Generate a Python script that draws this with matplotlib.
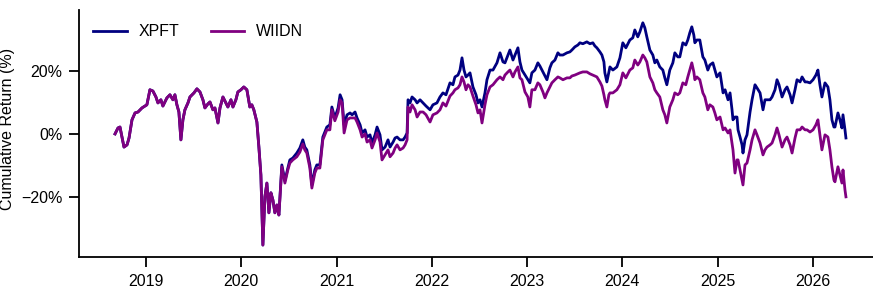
import matplotlib
matplotlib.use("Agg")
import matplotlib.pyplot as plt
import matplotlib.dates as mdates
from matplotlib.ticker import FuncFormatter
import pandas as pd

# decimal years
years = [
    2018.675, 2018.706, 2018.727, 2018.748, 2018.769, 2018.801, 2018.822, 2018.853, 2018.885, 2018.916,
    2018.958, 2019.010, 2019.042, 2019.073, 2019.105, 2019.126, 2019.157, 2019.178, 2019.220, 2019.252,
    2019.283, 2019.304, 2019.325, 2019.346, 2019.367, 2019.388, 2019.409, 2019.441, 2019.462, 2019.504,
    2019.535, 2019.567, 2019.598, 2019.619, 2019.651, 2019.672, 2019.703, 2019.724, 2019.756, 2019.777,
    2019.808, 2019.839, 2019.860, 2019.892, 2019.913, 2019.944, 2019.965, 2019.997, 2020.028, 2020.060,
    2020.091, 2020.112, 2020.133, 2020.165, 2020.186, 2020.207, 2020.228, 2020.249, 2020.270, 2020.291,
    2020.312, 2020.333, 2020.354, 2020.375, 2020.396, 2020.427, 2020.459, 2020.490, 2020.511, 2020.542,
    2020.584, 2020.616, 2020.647, 2020.668, 2020.689, 2020.721, 2020.742, 2020.773, 2020.794, 2020.826,
    2020.857, 2020.899, 2020.931, 2020.952, 2020.983, 2021.015, 2021.036, 2021.057, 2021.078, 2021.109,
    2021.141, 2021.162, 2021.193, 2021.214, 2021.246, 2021.267, 2021.298, 2021.319, 2021.350, 2021.371,
    2021.403, 2021.424, 2021.455, 2021.476, 2021.508, 2021.539, 2021.560, 2021.592, 2021.613, 2021.634,
    2021.665, 2021.697, 2021.718, 2021.739, 2021.749, 2021.770, 2021.791, 2021.823, 2021.844, 2021.875,
    2021.907, 2021.938, 2021.980, 2022.011, 2022.053, 2022.085, 2022.116, 2022.148, 2022.190, 2022.221,
    2022.242, 2022.274, 2022.295, 2022.316, 2022.337, 2022.358, 2022.379, 2022.400, 2022.431, 2022.463,
    2022.484, 2022.505, 2022.526, 2022.557, 2022.578, 2022.610, 2022.641, 2022.683, 2022.715, 2022.746,
    2022.767, 2022.798, 2022.819, 2022.851, 2022.872, 2022.903, 2022.924, 2022.945, 2022.977, 2023.008,
    2023.029, 2023.050, 2023.082, 2023.113, 2023.134, 2023.166, 2023.187, 2023.208, 2023.239, 2023.260,
    2023.292, 2023.323, 2023.344, 2023.376, 2023.418, 2023.449, 2023.470, 2023.501, 2023.533, 2023.554,
    2023.585, 2023.627, 2023.659, 2023.690, 2023.711, 2023.732, 2023.764, 2023.785, 2023.806, 2023.816,
    2023.837, 2023.858, 2023.869, 2023.900, 2023.942, 2023.974, 2024.005, 2024.037, 2024.079, 2024.110,
    2024.131, 2024.162, 2024.184, 2024.215, 2024.236, 2024.257, 2024.289, 2024.320, 2024.341, 2024.362,
    2024.393, 2024.425, 2024.446, 2024.467, 2024.498, 2024.530, 2024.551, 2024.582, 2024.603, 2024.635,
    2024.666, 2024.687, 2024.708, 2024.729, 2024.750, 2024.761, 2024.782, 2024.813, 2024.845, 2024.866,
    2024.897, 2024.918, 2024.950, 2024.971, 2024.992, 2025.023, 2025.055, 2025.076, 2025.107, 2025.128,
    2025.149, 2025.159, 2025.180, 2025.201, 2025.212, 2025.233, 2025.254, 2025.264, 2025.285, 2025.306,
    2025.338, 2025.359, 2025.390, 2025.411, 2025.443, 2025.474, 2025.495, 2025.516, 2025.548, 2025.569,
    2025.600, 2025.621, 2025.642, 2025.674, 2025.705, 2025.726, 2025.758, 2025.779, 2025.810, 2025.831,
    2025.863, 2025.884, 2025.915, 2025.936, 2025.967, 2025.999, 2026.030, 2026.051, 2026.072, 2026.093,
    2026.125, 2026.156, 2026.177, 2026.198, 2026.219, 2026.230, 2026.261, 2026.282, 2026.303, 2026.314,
    2026.335, 2026.345,
]

xpft = [
    0.0, 1.9, 2.2, -1.0, -4.2, -3.5, -1.3, 4.5, 6.7, 7.0,
    8.3, 9.3, 14.1, 13.7, 11.8, 9.9, 10.9, 8.9, 11.5, 12.5,
    10.9, 12.5, 9.3, 7.0, -1.9, 4.5, 7.7, 9.9, 11.8, 13.1,
    14.4, 13.4, 10.9, 8.3, 9.6, 10.2, 7.7, 8.3, 3.5, 8.3,
    11.8, 9.9, 8.6, 10.9, 8.6, 10.9, 13.4, 14.1, 15.0, 14.1,
    8.6, 9.3, 7.7, 3.8, -4.2, -13.1, -35.5, -20.1, -15.7, -25.2,
    -18.8, -21.1, -25.2, -22.7, -25.9, -9.9, -15.0, -10.9, -8.3, -7.7,
    -6.1, -4.5, -1.9, -4.2, -5.1, -9.9, -16.3, -11.5, -9.9, -9.9,
    -1.0, 2.2, 2.9, 8.6, 5.1, 8.3, 12.5, 10.9, 2.9, 6.1,
    6.7, 6.1, 7.0, 5.1, 2.9, 0.3, 1.3, -1.0, -0.3, -2.9,
    -0.3, 2.2, -0.3, -5.1, -4.2, -1.9, -4.2, -2.6, -1.3, -1.0,
    -1.9, -1.9, -1.0, 0.3, 10.9, 9.9, 11.8, 10.9, 9.9, 10.9,
    9.9, 8.9, 7.7, 9.3, 9.9, 11.8, 13.1, 12.5, 16.3, 15.7,
    18.2, 18.8, 20.4, 24.3, 20.4, 18.2, 18.8, 19.5, 15.0, 12.5,
    9.9, 10.9, 8.6, 13.1, 17.3, 20.4, 20.4, 22.7, 25.9, 23.0,
    22.7, 25.2, 26.8, 23.6, 25.2, 27.5, 23.0, 20.4, 18.8, 17.3,
    16.3, 19.5, 20.4, 22.7, 21.7, 19.8, 18.5, 17.3, 21.1, 22.7,
    23.6, 25.9, 25.2, 25.2, 25.9, 26.2, 26.8, 27.8, 28.4, 29.1,
    28.8, 29.4, 28.8, 29.1, 28.1, 27.5, 26.2, 25.2, 23.0, 19.5,
    16.6, 19.8, 21.4, 20.4, 21.4, 24.3, 29.1, 27.5, 30.0, 30.7,
    33.2, 31.0, 32.6, 35.5, 33.9, 31.0, 26.8, 25.2, 22.7, 23.6,
    21.4, 20.4, 17.9, 15.7, 20.4, 22.7, 25.9, 24.6, 24.6, 29.1,
    28.4, 30.0, 32.3, 34.2, 31.6, 29.1, 30.0, 30.0, 24.6, 23.6,
    20.4, 22.0, 22.7, 20.4, 18.2, 19.5, 13.1, 14.1, 10.9, 13.1,
    7.7, 4.5, 5.4, 5.4, 1.3, -1.0, -3.5, -6.1, -1.9, -0.3,
    7.0, 10.9, 15.7, 14.7, 13.1, 7.7, 10.9, 10.9, 10.9, 11.8,
    14.1, 17.3, 15.7, 11.8, 14.1, 15.0, 12.5, 9.9, 14.1, 17.3,
    16.6, 18.2, 16.6, 16.6, 16.3, 17.3, 18.8, 20.4, 15.7, 11.8,
    16.3, 15.0, 10.9, 4.5, 2.2, 2.2, 6.7, 4.5, 1.9, 6.1,
    1.3, -1.3,
]

wiidn = [
    0.0, 1.9, 2.2, -1.0, -4.2, -3.5, -1.3, 4.5, 6.7, 7.0,
    8.3, 9.3, 14.1, 13.7, 11.8, 9.9, 10.9, 8.9, 11.5, 12.5,
    10.9, 12.5, 9.3, 7.0, -1.9, 4.5, 7.7, 9.9, 11.8, 13.1,
    14.4, 13.4, 10.9, 8.3, 9.6, 10.2, 7.7, 8.3, 3.5, 8.3,
    11.8, 9.9, 8.6, 10.9, 8.6, 10.9, 13.4, 14.1, 15.0, 14.1,
    8.6, 9.3, 7.7, 3.8, -4.2, -13.1, -35.5, -20.1, -15.7, -25.2,
    -18.8, -21.1, -25.2, -22.7, -25.9, -10.5, -15.7, -11.5, -9.3, -8.3,
    -7.3, -5.8, -3.2, -5.1, -6.1, -10.9, -17.3, -12.5, -10.9, -10.9,
    -1.9, 1.3, 1.3, 7.7, 4.2, 7.0, 10.9, 9.9, 0.3, 4.5,
    5.1, 5.1, 5.1, 3.8, 1.3, -1.0, 0.0, -2.6, -1.9, -4.5,
    -1.9, 0.3, -2.6, -8.3, -6.7, -5.1, -7.3, -6.1, -4.5, -3.5,
    -5.1, -4.5, -3.5, -1.9, 8.6, 7.0, 9.3, 7.7, 5.4, 7.0,
    7.0, 6.1, 3.8, 6.1, 6.7, 7.7, 9.9, 8.9, 12.1, 13.1,
    14.1, 14.7, 15.7, 18.2, 16.6, 14.1, 15.7, 15.0, 12.1, 9.3,
    6.7, 7.7, 3.5, 9.3, 12.5, 15.0, 15.7, 17.3, 18.2, 17.3,
    18.8, 19.8, 20.4, 18.2, 19.8, 21.4, 17.9, 17.3, 13.4, 11.8,
    8.6, 14.1, 14.1, 16.3, 15.7, 13.4, 11.5, 13.1, 15.0, 16.3,
    17.3, 18.2, 17.9, 17.3, 17.9, 17.9, 18.5, 18.8, 19.2, 19.5,
    19.8, 19.8, 19.2, 18.8, 18.5, 18.2, 16.6, 15.3, 12.5, 10.9,
    8.6, 12.5, 13.1, 13.1, 14.1, 15.7, 19.5, 17.9, 20.4, 21.1,
    23.6, 22.0, 23.0, 25.2, 24.3, 23.0, 18.2, 16.3, 14.1, 13.1,
    11.8, 7.7, 6.1, 3.5, 8.6, 10.9, 13.1, 12.5, 13.1, 16.3,
    15.7, 18.2, 20.4, 22.7, 19.8, 17.3, 18.2, 17.3, 13.1, 11.8,
    7.7, 9.3, 8.6, 6.7, 4.5, 5.4, 1.3, 1.9, 0.3, 1.3,
    -2.9, -5.1, -12.5, -8.3, -8.3, -11.5, -14.7, -16.3, -9.9, -9.3,
    -5.1, -1.9, 1.3, -0.3, -2.9, -6.7, -5.1, -4.2, -3.5, -2.9,
    -0.3, 1.9, -0.3, -4.2, -1.9, -1.0, -3.5, -6.1, -1.3, 1.3,
    1.3, 2.2, 1.3, 1.3, 0.6, 1.3, 2.9, 4.5, -0.3, -5.1,
    -0.3, -1.0, -5.1, -10.5, -14.7, -15.3, -10.5, -13.1, -15.7, -11.5,
    -17.9, -20.1,
]


def to_date(y):
    start = pd.Timestamp(year=int(y), month=1, day=1)
    return start + pd.Timedelta(days=(y - int(y)) * 365.25)


dates = [to_date(y) for y in years]

plt.rcParams['font.family'] = ['Liberation Sans', 'DejaVu Sans']
plt.rcParams['font.size'] = 11.5

fig = plt.figure(figsize=(8.73, 2.92), dpi=100)
ax = fig.add_axes([0.0905, 0.12, 0.9095, 0.846])

ax.plot(dates, xpft, color='#000080', lw=2.0, label='XPFT')
ax.plot(dates, wiidn, color='#800080', lw=2.0, label='WIIDN')

ax.set_xlim(to_date(2018.297), to_date(2026.629))
ax.set_ylim(-39.3, 39.6)
ax.set_yticks([-20, 0, 20])
ax.yaxis.set_major_formatter(FuncFormatter(lambda v, p: f"{v:.0f}%".replace('-', '\u2212')))
ax.xaxis.set_major_locator(mdates.YearLocator())
ax.xaxis.set_major_formatter(mdates.DateFormatter('%Y'))
ax.set_ylabel('Cumulative Return (%)')
ax.yaxis.set_label_coords(-0.081, 0.52)

for s in ['top', 'right']:
    ax.spines[s].set_visible(False)
for s in ['left', 'bottom']:
    ax.spines[s].set_linewidth(1.3)
ax.tick_params(direction='out', length=7, width=1.3, pad=5, colors='black', labelsize=11.5)

ax.legend(loc='upper left', ncol=2, frameon=False, handlelength=2.1,
          handletextpad=0.75, columnspacing=1.95)

fig.savefig('out.png', dpi=100)
